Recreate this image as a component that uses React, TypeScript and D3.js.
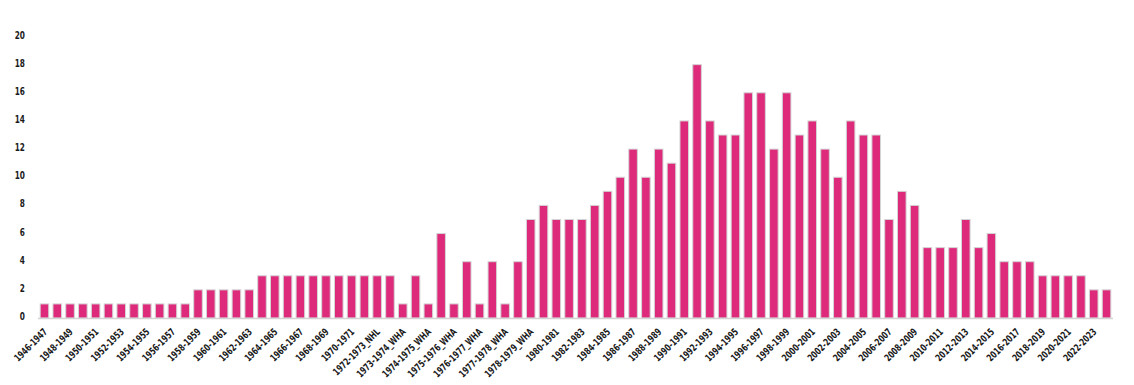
import React, { useRef, useEffect } from "react";
import * as d3 from "d3";

// Seasons (NHL, plus WHA seasons 1973-1979)
const seasons: string[] = [
  "1946-1947", "1947-1948", "1948-1949", "1949-1950", "1950-1951", "1951-1952",
  "1952-1953", "1953-1954", "1954-1955", "1955-1956", "1956-1957", "1957-1958",
  "1958-1959", "1959-1960", "1960-1961", "1961-1962", "1962-1963", "1963-1964",
  "1964-1965", "1965-1966", "1966-1967", "1967-1968", "1968-1969", "1969-1970",
  "1970-1971", "1971-1972", "1972-1973_NHL", "1973-1974_NHL", "1973-1974_WHA",
  "1974-1975_NHL", "1974-1975_WHA", "1975-1976_NHL", "1975-1976_WHA",
  "1976-1977_NHL", "1976-1977_WHA", "1977-1978_NHL", "1977-1978_WHA",
  "1978-1979_NHL", "1978-1979_WHA", "1979-1980", "1980-1981", "1981-1982",
  "1982-1983", "1983-1984", "1984-1985", "1985-1986", "1986-1987", "1987-1988",
  "1988-1989", "1989-1990", "1990-1991", "1991-1992", "1992-1993", "1993-1994",
  "1994-1995", "1995-1996", "1996-1997", "1997-1998", "1998-1999", "1999-2000",
  "2000-2001", "2001-2002", "2002-2003", "2003-2004", "2004-2005", "2005-2006",
  "2006-2007", "2007-2008", "2008-2009", "2009-2010", "2010-2011", "2011-2012",
  "2012-2013", "2013-2014", "2014-2015", "2015-2016", "2016-2017", "2017-2018",
  "2018-2019", "2019-2020", "2020-2021", "2021-2022", "2022-2023", "2023-2024",
];

const counts: number[] = [
  1, 1, 1, 1, 1, 1, 1, 1, 1, 1, 1, 1,
  2, 2, 2, 2, 2,
  3, 3, 3, 3, 3, 3, 3, 3, 3, 3, 3,
  1, 3, 1, 6, 1, 4, 1, 4, 1, 4, 7,
  8, 7, 7, 7, 8, 9, 10, 12, 10, 12, 11, 14, 18, 14, 13, 13, 16, 16,
  12, 16, 13, 14, 12, 10, 14, 13, 13, 7, 9, 8, 5, 5, 5, 7, 5, 6,
  4, 4, 4, 3, 3, 3, 3, 2, 2,
];

const yTicks: number[] = [0, 2, 4, 6, 8, 10, 12, 14, 16, 18, 20];

const FONT = "'Liberation Sans Narrow', 'DejaVu Sans Condensed', sans-serif";

const App: React.FC = () => {
  const svgRef = useRef<SVGSVGElement | null>(null);

  useEffect(() => {
    const width = 1134;
    const height = 385;
    const left = 38;
    const right = 1113;
    const baseY = 318;
    const topY = 36.5;

    const svg = d3.select(svgRef.current);
    svg.selectAll("*").remove();
    svg.attr("width", width).attr("height", height);

    const data = seasons.map((s, i) => ({ season: s, value: counts[i] }));

    const x = d3
      .scaleBand<string>()
      .domain(seasons)
      .range([left, right])
      .paddingInner(0.33)
      .paddingOuter(0.17);

    const y = d3.scaleLinear().domain([0, 20]).range([baseY, topY]);

    // y labels (no axis line), squeezed to look like a condensed face
    svg
      .append("g")
      .selectAll("text")
      .data(yTicks)
      .join("text")
      .attr("transform", (d) => `translate(25,${y(d) - 1.5}) scale(0.82,1)`)
      .attr("dy", "0.35em")
      .attr("text-anchor", "end")
      .style("font-family", FONT)
      .style("font-size", "10px")
      .style("font-weight", "bold")
      .style("fill", "#1a1a1a")
      .text((d) => d);

    // bars
    svg
      .append("g")
      .selectAll("rect")
      .data(data)
      .join("rect")
      .attr("x", (d) => x(d.season) as number)
      .attr("y", (d) => y(d.value))
      .attr("width", x.bandwidth())
      .attr("height", (d) => baseY - y(d.value))
      .attr("fill", "#dd2a7b")
      .attr("stroke", "#d4d4d4")
      .attr("stroke-width", 1);

    // baseline
    svg
      .append("line")
      .attr("x1", left)
      .attr("x2", right)
      .attr("y1", baseY + 0.5)
      .attr("y2", baseY + 0.5)
      .attr("stroke", "#d4d4d4")
      .attr("stroke-width", 1.5);

    // x labels, every other season
    svg
      .append("g")
      .selectAll("text")
      .data(seasons.filter((_, i) => i % 2 === 0))
      .join("text")
      .attr(
        "transform",
        (d) =>
          `translate(${(x(d) as number) + x.bandwidth() / 2 + 1},${baseY + 12}) rotate(-45) scale(0.78,1)`
      )
      .attr("text-anchor", "end")
      .attr("dy", "0.35em")
      .style("font-family", FONT)
      .style("font-size", "10px")
      .style("font-weight", "bold")
      .style("fill", "#1a1a1a")
      .text((d) => d);
  }, []);

  return (
    <div>
      <svg ref={svgRef} style={{ position: "absolute", left: 0, top: 0 }}></svg>
    </div>
  );
};

export default App;
